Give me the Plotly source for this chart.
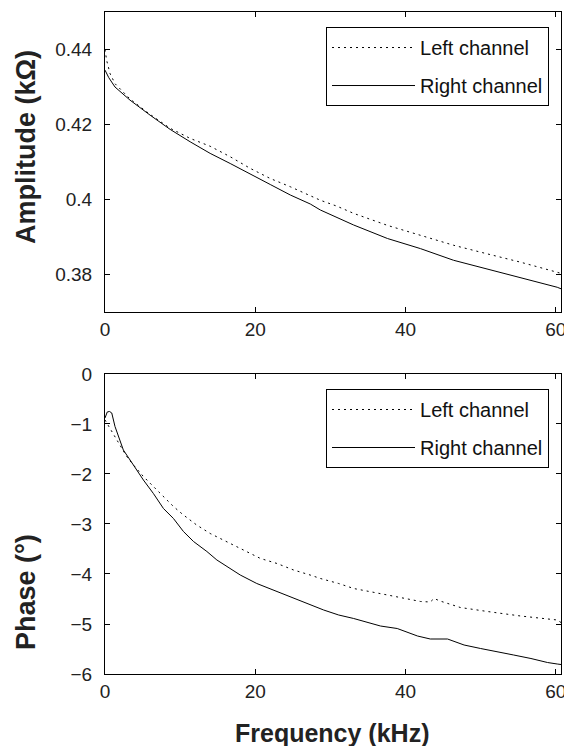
import plotly.graph_objects as go

# ---------------- data ----------------
amp_left_f = [0, 0.22, 0.67, 1.33, 3.33, 6, 8.67, 11.33, 14, 16.67, 19.33, 22, 24.67,
              27.33, 28.67, 30.9, 33.1, 37.6, 42, 46.4, 50.9, 55.3, 60.2, 60.7]
amp_left = [0.4400, 0.4371, 0.4336, 0.4309, 0.4268, 0.4227, 0.4190, 0.4163, 0.4142,
            0.4114, 0.4083, 0.4056, 0.4034, 0.4011, 0.3998, 0.3982, 0.3963, 0.3931,
            0.3905, 0.3878, 0.3855, 0.3833, 0.3806, 0.3803]

amp_right_f = [0, 0.5, 1.33, 3.33, 6, 8.67, 11.33, 14, 16.67, 19.33, 22, 24.67, 27.33,
               28.67, 30.9, 33.1, 37.6, 42, 46.4, 50.9, 55.3, 60.2, 60.7]
amp_right = [0.4345, 0.4325, 0.4300, 0.4265, 0.4225, 0.4187, 0.4154, 0.4123, 0.4096,
             0.4069, 0.4040, 0.4012, 0.3988, 0.3972, 0.3952, 0.3932, 0.3896, 0.3869,
             0.3838, 0.3815, 0.3793, 0.3766, 0.3762]

ph_left_f = [0, 0.67, 1.33, 2, 2.89, 3.78, 5.11, 6.44, 7.78, 9.11, 10.44, 12.2, 14, 16.2,
             18.4, 20.7, 22.9, 25.1, 27.3, 28.67, 31.1, 33.1, 37.6, 42, 43.3, 43.8,
             44.6, 47.3, 50.9, 55.3, 60.2, 60.7]
ph_left = [-0.92, -1.09, -1.25, -1.42, -1.65, -1.82, -2.05, -2.25, -2.45, -2.65, -2.82,
           -3.02, -3.19, -3.35, -3.52, -3.69, -3.79, -3.92, -4.02, -4.09, -4.19, -4.29,
           -4.42, -4.55, -4.56, -4.49, -4.54, -4.67, -4.75, -4.84, -4.92, -4.97]

ph_right_f = [0, 0.3, 0.6, 0.9, 1.33, 2, 2.44, 3.78, 5.11, 6.44, 7.78, 9.11, 10.44, 11.78,
              13.56, 14.89, 16.22, 18, 20.2, 22.4, 24.67, 26.9, 29.1, 31.1, 33.1, 36.67,
              38.9, 41.6, 43.3, 45.6, 47.8, 50, 52.2, 54.4, 56.7, 58.9, 60.2, 60.7]
ph_right = [-0.88, -0.76, -0.75, -0.78, -1.05, -1.32, -1.52, -1.82, -2.12, -2.39, -2.69,
            -2.89, -3.15, -3.35, -3.55, -3.72, -3.85, -4.02, -4.19, -4.32, -4.45, -4.59,
            -4.72, -4.82, -4.89, -5.04, -5.09, -5.24, -5.30, -5.30, -5.42, -5.49, -5.55,
            -5.62, -5.69, -5.77, -5.80, -5.81]

x_ticks = [0, 20, 40, 60]
amp_ticks = [0.38, 0.40, 0.42, 0.44]
amp_ticktext = ["0.38", "0.4", "0.42", "0.44"]
ph_ticks = [-6, -5, -4, -3, -2, -1, 0]

names = ["Left channel", "Right channel"]

# ---------------- figure ----------------
FONT = "Liberation Sans, Arial, Helvetica, sans-serif"
dot_dash = "2px,4px"

fig = go.Figure()
fig.add_trace(go.Scatter(x=amp_left_f, y=amp_left, mode="lines", name=names[0],
                         line=dict(color="black", width=1, dash=dot_dash),
                         xaxis="x", yaxis="y", legend="legend", legendgroup="a"))
fig.add_trace(go.Scatter(x=amp_right_f, y=amp_right, mode="lines", name=names[1],
                         line=dict(color="black", width=1),
                         xaxis="x", yaxis="y", legend="legend", legendgroup="b"))
fig.add_trace(go.Scatter(x=ph_left_f, y=ph_left, mode="lines", name=names[0],
                         line=dict(color="black", width=1, dash=dot_dash),
                         xaxis="x2", yaxis="y2", legend="legend2", legendgroup="c"))
fig.add_trace(go.Scatter(x=ph_right_f, y=ph_right, mode="lines", name=names[1],
                         line=dict(color="black", width=1),
                         xaxis="x2", yaxis="y2", legend="legend2", legendgroup="d"))

axis_common = dict(showline=True, linecolor="black", linewidth=1, mirror="ticks",
                   ticks="inside", ticklen=5, tickcolor="black", showgrid=False,
                   zeroline=False, automargin=False,
                   tickfont=dict(family=FONT, size=19, color="#222"))

legend_common = dict(font=dict(family=FONT, size=20, color="#111"),
                     bgcolor="white", bordercolor="black", borderwidth=1,
                     xanchor="right", yanchor="top", itemwidth=83,
                     tracegroupgap=9, traceorder="grouped")

# page body adds an 8px offset; the figure is sized to compensate
fig.update_layout(
    width=564, height=738,
    margin=dict(l=97, r=11, t=4, b=72, autoexpand=False),
    paper_bgcolor="white", plot_bgcolor="white",
    showlegend=True,
    xaxis=dict(domain=[0, 1], anchor="y", range=[0, 60.7], tickvals=x_ticks, **axis_common),
    yaxis=dict(domain=[0.5468, 1], anchor="x", range=[0.37, 0.45], tickvals=amp_ticks,
               ticktext=amp_ticktext, ticklabelstandoff=8, **axis_common),
    xaxis2=dict(domain=[0, 1], anchor="y2", range=[0, 60.7], tickvals=x_ticks, **axis_common),
    yaxis2=dict(domain=[0, 0.4532], anchor="x2", range=[-6, 0], tickvals=ph_ticks,
                ticklabelstandoff=8, **axis_common),
    legend=dict(x=0.9737, y=0.9773, **legend_common),
    legend2=dict(x=0.9737, y=0.4305, **legend_common),
    annotations=[
        dict(text="<b>Amplitude (kΩ)</b>", xref="paper", yref="paper", x=-0.1732, y=0.796,
             textangle=-90, showarrow=False, xanchor="center", yanchor="middle",
             font=dict(family=FONT, size=27, color="#222")),
        dict(text="<b>Phase (°)</b>", xref="paper", yref="paper", x=-0.1732, y=0.1239,
             textangle=-90, showarrow=False, xanchor="center", yanchor="middle",
             font=dict(family=FONT, size=27, color="#222")),
        dict(text="<b>Frequency (kHz)</b>", xref="paper", yref="paper", x=0.4989, y=-0.0891,
             showarrow=False, xanchor="center", yanchor="middle",
             font=dict(family=FONT, size=25, color="#222")),
    ],
)

fig.write_html("out.html")
